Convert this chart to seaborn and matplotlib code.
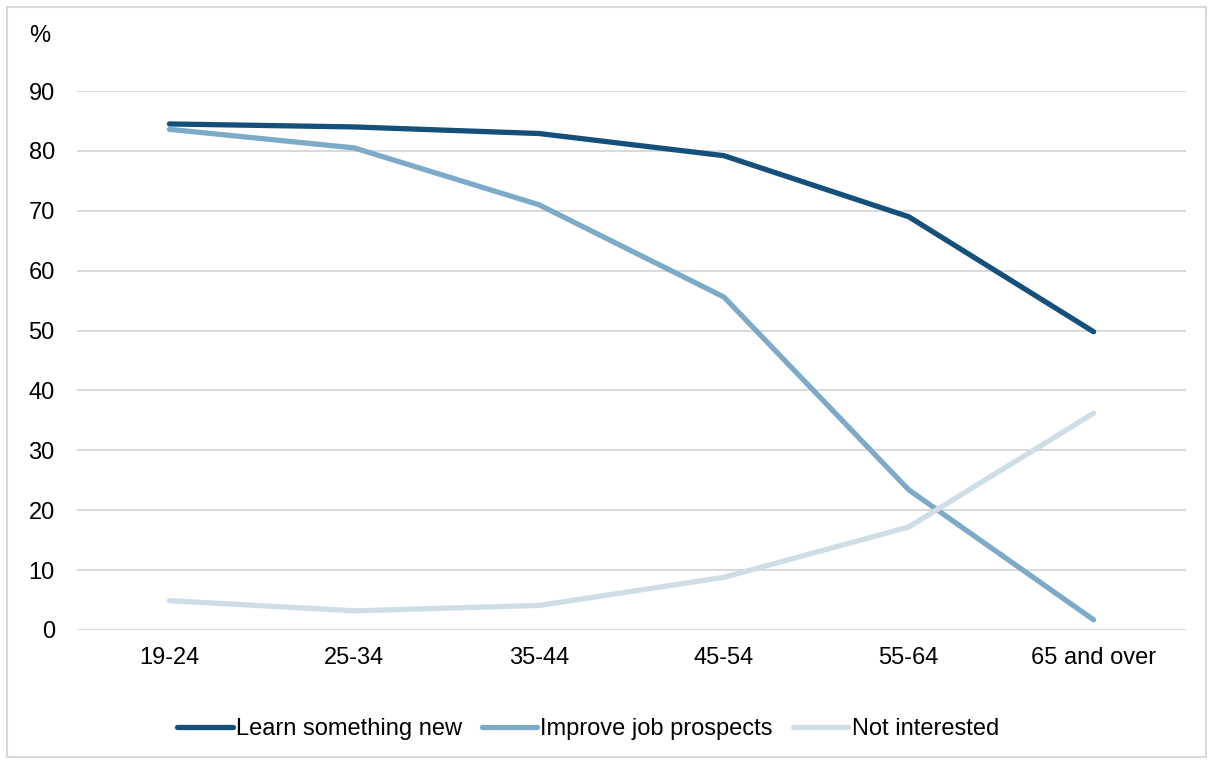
import matplotlib
matplotlib.use("Agg")
import matplotlib.pyplot as plt
from matplotlib.patches import Rectangle
import seaborn as sns
import pandas as pd

# Age bands and the share (%) of adults giving each reason
age_groups = ["19-24", "25-34", "35-44", "45-54", "55-64", "65 and over"]
learn_something_new = [84.5, 84.0, 82.9, 79.2, 69.0, 49.8]
improve_job_prospects = [83.6, 80.5, 71.0, 55.6, 23.4, 1.7]
not_interested = [4.9, 3.2, 4.1, 8.8, 17.2, 36.2]
series_names = ["Learn something new", "Improve job prospects", "Not interested"]
y_ticks = [0, 10, 20, 30, 40, 50, 60, 70, 80, 90]

colors = ["#14507a", "#7eaac9", "#cfdde6"]
FS = 17

sns.set_theme(style="white")
plt.rcParams["font.family"] = ["Liberation Sans", "DejaVu Sans"]
plt.rcParams["text.color"] = "#000000"

df = pd.DataFrame({
    "age": age_groups * 3,
    "value": learn_something_new + improve_job_prospects + not_interested,
    "series": [s for s in series_names for _ in age_groups],
})

fig = plt.figure(figsize=(12.13, 7.62), dpi=100)
W, H = 1213, 762
ax = fig.add_axes([77 / W, 1 - 630 / H, 1109 / W, (630 - 91) / H])

sns.lineplot(
    data=df, x="age", y="value", hue="series", hue_order=series_names,
    palette=colors, sort=False, linewidth=3.8, ax=ax, legend=False,
    estimator=None,
)
for line in ax.lines:
    line.set_solid_capstyle("round")
    line.set_solid_joinstyle("round")
    line.set_zorder(3)

ax.set_xlim(-0.5, len(age_groups) - 0.5)
ax.set_ylim(0, 90)
ax.set_yticks(y_ticks)
ax.set_xticks(range(len(age_groups)))
ax.set_xticklabels(age_groups)
ax.yaxis.grid(True, color="#d9d9d9", linewidth=1.4)
ax.set_axisbelow(True)
for sp in ax.spines.values():
    sp.set_visible(False)
ax.tick_params(axis="both", length=0, labelsize=FS, colors="#000000")
ax.tick_params(axis="y", pad=16)
ax.tick_params(axis="x", pad=12)
ax.set_xlabel("")
ax.set_ylabel("")

fig.text(29 / W, 1 - 36 / H, "%", fontsize=FS, ha="left", va="center",
         color="#000000")

handles = [plt.Line2D([], [], color=c, linewidth=3.8, solid_capstyle="round")
           for c in colors]
leg = fig.legend(handles, series_names, loc="center", ncol=3, frameon=False,
                 bbox_to_anchor=(588 / W, 1 - 729 / H), fontsize=FS,
                 handlelength=2.35, handletextpad=0.13, columnspacing=0.85)
for t in leg.get_texts():
    t.set_color("#000000")

fig.patches.append(Rectangle((7 / W, 5 / H), 1199 / W, 750 / H,
                             transform=fig.transFigure, fill=False,
                             edgecolor="#d9d9d9", linewidth=1.5))

fig.savefig("out.png", dpi=100, facecolor="white")
